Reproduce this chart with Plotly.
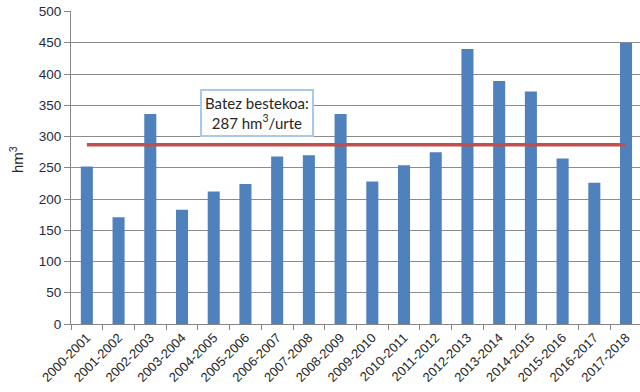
import plotly.graph_objects as go

categories = ["2000-2001", "2001-2002", "2002-2003", "2003-2004", "2004-2005", "2005-2006",
              "2006-2007", "2007-2008", "2008-2009", "2009-2010", "2010-2011", "2011-2012",
              "2012-2013", "2013-2014", "2014-2015", "2015-2016", "2016-2017", "2017-2018"]
values = [252, 171, 336, 183, 212, 224, 268, 270, 336, 228, 254, 275, 440, 389, 372, 265, 226, 450]
mean_value = 287
mean_label = "Batez bestekoa:<br>287 hm<sup>3</sup>/urte"
y_title = "hm<sup>3</sup>"

W, H = 640, 392
ML, MR, MT, MB = 71, 0, 11, 68
plot_w = W - ML - MR
plot_h = H - MT - MB

fig = go.Figure()
fig.add_trace(go.Bar(x=categories, y=values, marker=dict(color="#4F81BD", line=dict(width=0)),
                     width=0.38, showlegend=False, hoverinfo="skip"))
fig.add_trace(go.Scatter(x=[categories[0], categories[-1]], y=[mean_value, mean_value],
                         mode="lines", line=dict(color="#C0504D", width=3.5), showlegend=False,
                         hoverinfo="skip"))

fig.add_annotation(x=5.37, y=337, xref="x", yref="y", text=mean_label, showarrow=False,
                   font=dict(family="Lato, Liberation Sans", size=15, color="#262626"),
                   bgcolor="white", bordercolor="#A9C8EC", borderwidth=2, borderpad=3,
                   align="center")
fig.add_annotation(x=(16 - ML) / plot_w, y=(H - MB - 160) / plot_h, xref="paper", yref="paper",
                   text=y_title, showarrow=False, textangle=-90, xanchor="center", yanchor="middle",
                   font=dict(family="Liberation Sans", size=15, color="#262626"))

fig.update_layout(
    width=W, height=H,
    margin=dict(l=ML, r=MR, t=MT, b=MB, autoexpand=False),
    plot_bgcolor="white", paper_bgcolor="white",
    font=dict(family="Liberation Sans", color="#262626"),
    xaxis=dict(type="category", range=[-0.5, 17.44], tickson="boundaries", ticks="outside",
               ticklen=5, tickcolor="#868686", showline=True, linecolor="#868686",
               showgrid=False, tickangle=-45, automargin=False,
               tickfont=dict(size=13, color="#262626")),
    yaxis=dict(range=[0, 500.8], tickvals=list(range(0, 501, 50)), ticks="outside", ticklen=6,
               tickcolor="#868686", showline=True, linecolor="#868686", showgrid=True,
               gridcolor="#8C8C8C", gridwidth=1, zeroline=False, automargin=False,
               tickfont=dict(size=13.5, color="#1F2A44")),
)

# remove the browser's default 8px page margin so the figure sits at the window's corner
fig.write_html("out.html", config={"displayModeBar": False},
               post_script="document.body.style.margin='0px';")
